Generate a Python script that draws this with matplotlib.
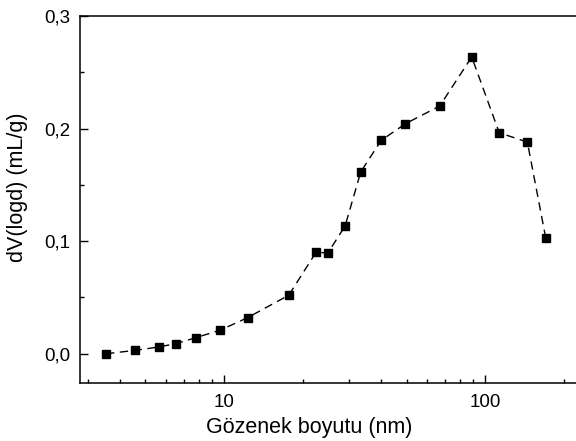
import matplotlib
matplotlib.use("Agg")
import matplotlib.pyplot as plt
from matplotlib.ticker import FuncFormatter, MultipleLocator, LogLocator

plt.rcParams['font.family'] = ['Liberation Sans', 'DejaVu Sans']

pore_size = [3.53, 4.57, 5.62, 6.55, 7.83, 9.68, 12.3, 17.7, 22.5, 25.0, 29.1,
             33.4, 40.0, 49.5, 67.0, 88.9, 113.3, 145.2, 170.9]
dv_logd = [0.000, 0.003, 0.006, 0.009, 0.0144, 0.021, 0.032, 0.052, 0.090, 0.0896, 0.1136,
           0.1616, 0.1895, 0.2043, 0.220, 0.2636, 0.1963, 0.188, 0.1024]

fig = plt.figure(figsize=(5.76, 4.41), dpi=100)
ax = fig.add_axes([80/576, (441-383)/441, (576-80)/576, (383-16)/441])

ax.plot(pore_size, dv_logd, color='black', linewidth=1.0, linestyle=(0, (6, 4)),
        marker='s', markersize=5.3, markerfacecolor='black', markeredgecolor='black')

ax.set_xscale('log')
ax.set_xlim(2.806, 223)
ax.set_ylim(-0.026, 0.3)

ax.yaxis.set_major_locator(MultipleLocator(0.1))
ax.yaxis.set_minor_locator(MultipleLocator(0.05))
ax.yaxis.set_major_formatter(FuncFormatter(lambda v, p: f"{v:.1f}".replace('.', ',')))
ax.xaxis.set_major_locator(LogLocator(base=10, numticks=10))
ax.xaxis.set_minor_locator(LogLocator(base=10, subs=range(2, 10), numticks=10))
ax.xaxis.set_major_formatter(FuncFormatter(lambda v, p: f"{v:g}"))

ax.tick_params(which='both', direction='in', top=False, right=False, labelsize=13.5, colors='black')
ax.tick_params(which='major', length=6, width=1)
ax.tick_params(which='minor', length=3, width=1)
ax.tick_params(axis='x', pad=8)
ax.tick_params(axis='y', pad=7)

for s in ['left', 'bottom', 'top']:
    ax.spines[s].set_linewidth(1.1)
ax.spines['right'].set_visible(False)

ax.set_xlabel('Gözenek boyutu (nm)', fontsize=15.5)
ax.set_ylabel('dV(logd) (mL/g)', fontsize=15.5)
ax.xaxis.set_label_coords(0.462, -0.092)
ax.yaxis.set_label_coords(-0.105, 0.534)

fig.savefig('out.png', dpi=100)
